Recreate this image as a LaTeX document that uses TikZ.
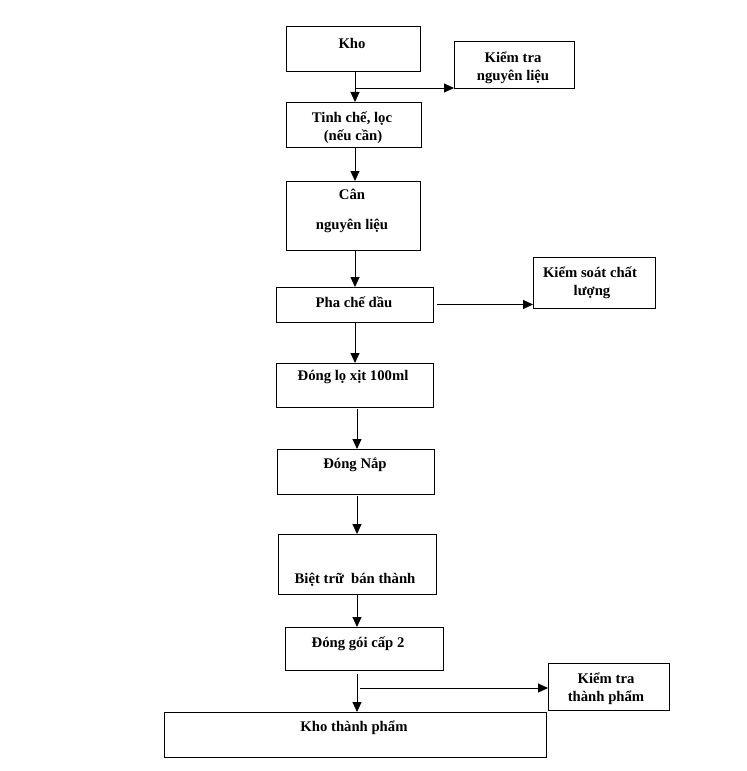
\documentclass[tikz,border=0pt]{standalone}
\usepackage{fontspec}
\setmainfont{Liberation Serif}
\usetikzlibrary{arrows.meta}
\tikzset{
  box/.style={draw, line width=1bp, rectangle, inner sep=0pt, outer sep=0pt},
  txt/.style={inner sep=0pt, outer sep=0pt, anchor=center, text height=11bp, text depth=2bp,
    font=\fontsize{14.7bp}{18bp}\selectfont\bfseries},
  arr/.style={line width=1bp, -{Triangle[length=10bp,width=9bp]}},
}
\begin{document}
\begin{tikzpicture}[x=1bp, y=-1bp]
\useasboundingbox[fill=white] (0,0) rectangle (747,771);
% boxes
\node[box, minimum width=134bp, minimum height=44bp] (kho)   at (353,49) {};
\node[box, minimum width=120bp, minimum height=46bp] (ktnl)  at (514,65) {};
\node[box, minimum width=135bp, minimum height=45bp] (tinh)  at (353.5,124.5) {};
\node[box, minimum width=134bp, minimum height=69bp] (can)   at (353,215.5) {};
\node[box, minimum width=157bp, minimum height=35bp] (pha)   at (354.5,304.5) {};
\node[box, minimum width=122bp, minimum height=51bp] (ks)    at (594,282.5) {};
\node[box, minimum width=157bp, minimum height=44bp] (dlo)   at (354.5,385) {};
\node[box, minimum width=157bp, minimum height=45bp] (nap)   at (355.5,471.5) {};
\node[box, minimum width=158bp, minimum height=60bp] (biet)  at (357,564) {};
\node[box, minimum width=158bp, minimum height=43bp] (dgoi)  at (364,648.5) {};
\node[box, minimum width=382bp, minimum height=45bp] (khotp) at (355,734.5) {};
\node[box, minimum width=121bp, minimum height=47bp] (kttp)  at (608.5,686.5) {};
% texts
\node[txt] (t-kho)   at (352,44) {Kho};
\node[txt] (t-ktnl1) at (513,58) {Kiểm tra};
\node[txt] (t-ktnl2) at (513,76) {nguyên liệu};
\node[txt] (t-tinh1) at (352,118) {Tinh chế, lọc};
\node[txt] (t-tinh2) at (353,136) {(nếu cần)};
\node[txt] (t-can1)  at (352,195) {Cân};
\node[txt] (t-can2)  at (352,225) {nguyên liệu};
\node[txt] (t-pha)   at (354,303) {Pha chế dầu};
\node[txt] (t-ks1)   at (590,273) {Kiểm soát chất};
\node[txt] (t-ks2)   at (592,291) {lượng};
\node[txt] (t-dlo)   at (353,376) {Đóng lọ xịt 100ml};
\node[txt] (t-nap)   at (355,464) {Đóng Nắp};
\node[txt] (t-biet)  at (355,579) {Biệt trữ~~bán thành};
\node[txt] (t-dgoi)  at (358,643) {Đóng gói cấp 2};
\node[txt] (t-khotp) at (354,727) {Kho thành phẩm};
\node[txt] (t-kttp1) at (606,679) {Kiểm tra};
\node[txt] (t-kttp2) at (606,697) {thành phẩm};
% connector guides
\coordinate (ax) at (355,0);
\coordinate (bx) at (357,0);
\coordinate (b1) at (355,88);
\coordinate (b3) at (360,688);
% connectors
\draw[arr] (kho.south -| ax) -- (tinh.north -| ax);
\draw[arr] (b1) -- (b1 -| ktnl.west);
\draw[arr] (tinh.south -| ax) -- (can.north -| ax);
\draw[arr] (can.south -| ax) -- (pha.north -| ax);
\draw[arr] ([xshift=4bp]pha.east) -- (pha.east -| ks.west);
\draw[arr] (pha.south -| ax) -- (dlo.north -| ax);
\draw[arr] ([yshift=-2bp]dlo.south -| bx) -- (nap.north -| bx);
\draw[arr] ([yshift=-2bp]nap.south -| bx) -- (biet.north -| bx);
\draw[arr] (biet.south -| bx) -- (dgoi.north -| bx);
\draw[arr] ([yshift=-4bp]dgoi.south -| bx) -- (khotp.north -| bx);
\draw[arr] (b3) -- (b3 -| kttp.west);
\end{tikzpicture}
\end{document}
